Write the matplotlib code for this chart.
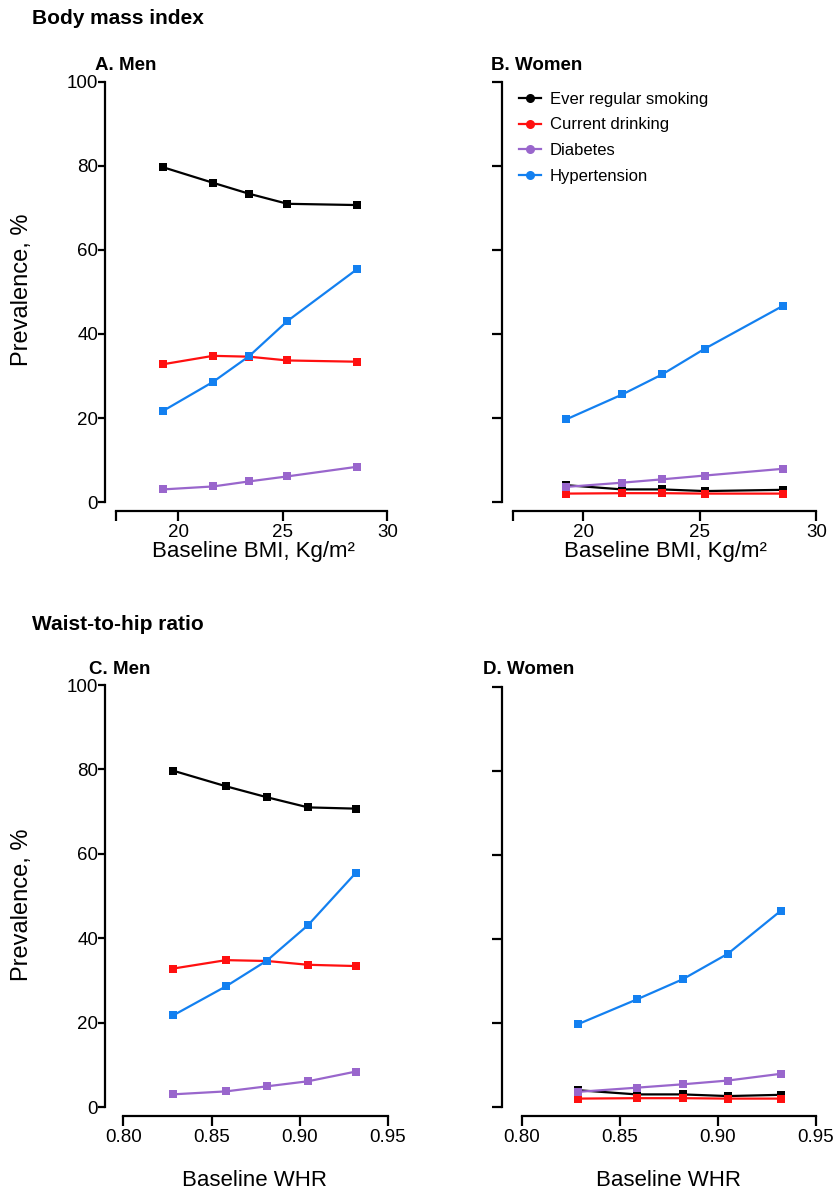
import matplotlib
matplotlib.use("Agg")
import matplotlib.pyplot as plt
from matplotlib.lines import Line2D

plt.rcParams['font.family'] = ['Liberation Sans', 'DejaVu Sans']

# ---------------- data ----------------
series_names = ["Ever regular smoking", "Current drinking", "Diabetes", "Hypertension"]
series_colors = ["#000000", "#FF1010", "#9966CC", "#1380F0"]

bmi_men = [19.27, 21.66, 23.38, 25.22, 28.57]
bmi_women = [19.28, 21.67, 23.39, 25.21, 28.56]
whr_men = [0.8282, 0.8582, 0.8814, 0.9047, 0.9318]
whr_women = [0.8286, 0.8586, 0.8820, 0.9051, 0.9320]

men_smoking = [79.7, 76.0, 73.4, 71.0, 70.7]
men_drinking = [32.8, 34.8, 34.6, 33.7, 33.4]
men_diabetes = [3.0, 3.7, 4.9, 6.1, 8.4]
men_hypertension = [21.7, 28.6, 34.7, 43.1, 55.5]

women_smoking = [4.0, 3.0, 3.0, 2.6, 2.9]
women_drinking = [2.0, 2.1, 2.1, 2.0, 2.0]
women_diabetes = [3.6, 4.6, 5.4, 6.3, 7.9]
women_hypertension = [19.7, 25.6, 30.4, 36.5, 46.7]

bmi_ticks = [17, 20, 25, 30]
bmi_ticklabels = ["", "20", "25", "30"]
whr_ticks = [0.80, 0.85, 0.90, 0.95]
whr_ticklabels = ["0.80", "0.85", "0.90", "0.95"]
y_ticks = [0, 20, 40, 60, 80, 100]

# ---------------- layout helpers ----------------
W, H = 834, 1196
fig = plt.figure(figsize=(W / 100, H / 100), dpi=100)


def box(x0, x1, ytop, ybot):
    return [x0 / W, 1 - ybot / H, (x1 - x0) / W, (ybot - ytop) / H]


def px(v):
    return v * 0.72


TICK_FS = 13.5
XLAB_FS = 16
YLAB_FS = 17


def make_panel(rect, spine_x, xaxis_y, ybot, xlim, xticks, xticklabels, men,
               xs, vals, ytick_len):
    ax = fig.add_axes(rect)
    for s in ("top", "right"):
        ax.spines[s].set_visible(False)
    left_px = rect[0] * W
    ax.spines["left"].set_position(("outward", px(left_px - spine_x)))
    ax.spines["bottom"].set_position(("outward", px(xaxis_y - ybot)))
    ax.spines["left"].set_linewidth(1.6)
    ax.spines["bottom"].set_linewidth(1.6)
    ax.set_xlim(*xlim)
    ax.set_ylim(0, 100)
    ax.spines["left"].set_bounds(0, 100)
    ax.spines["bottom"].set_bounds(*xlim)
    ax.set_xticks(xticks)
    ax.set_xticklabels(xticklabels)
    ax.set_yticks(y_ticks)
    if men:
        ax.set_yticklabels([str(t) for t in y_ticks])
    else:
        ax.set_yticklabels([])
    ax.tick_params(axis="y", length=px(ytick_len), width=1.6, labelsize=TICK_FS, pad=0)
    ax.tick_params(axis="x", length=px(10), width=1.6, labelsize=TICK_FS, pad=2)
    for v, c in zip(vals, series_colors):
        ax.plot(xs, v, color=c, lw=1.6, marker="s", markersize=5.8,
                markeredgewidth=0, zorder=3)
    ax.patch.set_visible(False)
    return ax


# Panel A
axA = make_panel(box(115.7, 387.3, 82, 502), 105, 511, 502, (17, 30),
                 bmi_ticks, bmi_ticklabels, True, bmi_men,
                 [men_smoking, men_drinking, men_diabetes, men_hypertension], 7)
# Panel B
axB = make_panel(box(513.3, 816.5, 82, 502), 502, 511, 502, (17, 30),
                 bmi_ticks, bmi_ticklabels, False, bmi_women,
                 [women_smoking, women_drinking, women_diabetes, women_hypertension], 10)
# Panel C
axC = make_panel(box(123.3, 388.0, 685, 1107), 105, 1116, 1107, (0.80, 0.95),
                 whr_ticks, whr_ticklabels, True, whr_men,
                 [men_smoking, men_drinking, men_diabetes, men_hypertension], 7)
# Panel D
axD = make_panel(box(521.7, 816.0, 687, 1107), 502, 1116, 1107, (0.80, 0.95),
                 whr_ticks, whr_ticklabels, False, whr_women,
                 [women_smoking, women_drinking, women_diabetes, women_hypertension], 10)


def ftext(x, y, s, **kw):
    fig.text(x / W, 1 - y / H, s, **kw)


# Section titles
ftext(32, 18, "Body mass index", fontsize=15, fontweight="bold", va="center", ha="left")
ftext(32, 625, "Waist-to-hip ratio", fontsize=15, fontweight="bold", va="center", ha="left")

# Panel titles
ftext(95, 65, "A. Men", fontsize=13.5, fontweight="bold", va="center", ha="left")
ftext(491, 65, "B. Women", fontsize=13.5, fontweight="bold", va="center", ha="left")
ftext(89, 670, "C. Men", fontsize=13.5, fontweight="bold", va="center", ha="left")
ftext(483, 669, "D. Women", fontsize=13.5, fontweight="bold", va="center", ha="left")

# x labels
ftext(253, 552, "Baseline BMI, Kg/m²", fontsize=XLAB_FS, ha="center", va="center")
ftext(665, 552, "Baseline BMI, Kg/m²", fontsize=XLAB_FS, ha="center", va="center")
ftext(255, 1181, "Baseline WHR", fontsize=XLAB_FS, ha="center", va="center")
ftext(668, 1181, "Baseline WHR", fontsize=XLAB_FS, ha="center", va="center")

# y labels
ftext(22, 290, "Prevalence, %", fontsize=YLAB_FS, ha="center", va="center", rotation=90)
ftext(22, 905, "Prevalence, %", fontsize=YLAB_FS, ha="center", va="center", rotation=90)

# Legend in panel B
handles = [Line2D([0], [0], color=c, lw=1.6, marker="o", markersize=6.5, markeredgewidth=0)
           for c in series_colors]
leg = axB.legend(handles, series_names, loc="upper left",
                 bbox_to_anchor=(519 / W, 1 - 92 / H), bbox_transform=fig.transFigure,
                 frameon=False, fontsize=12, handlelength=1.3, handletextpad=0.55,
                 labelspacing=0.63, borderpad=0, borderaxespad=0)

fig.savefig("out.png", dpi=100)
